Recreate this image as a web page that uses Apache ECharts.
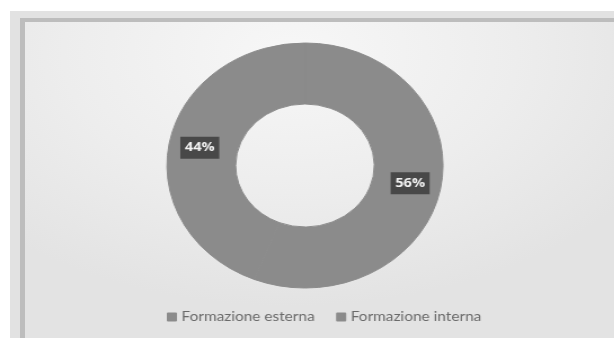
<!DOCTYPE html>
<html>
<head>
<meta charset="utf-8">
<script src="https://cdn.jsdelivr.net/npm/echarts@6/dist/echarts.min.js"></script>
<style>
  html, body { margin: 0; padding: 0; background: #ffffff; }
  #page { position: relative; width: 614px; height: 338px; overflow: hidden; background: #ffffff; }
  /* slide frame: outer light band, darker edge line, then the plot area */
  #frame { position: absolute; left: 10px; top: 11px; right: 0; bottom: 0; background: #e2e2e2; }
  #edge { position: absolute; left: 20px; top: 18px; right: 0; bottom: 0; background: #bdbdbd; }
  #area { position: absolute; left: 25px; top: 22px; right: 0; bottom: 0;
          background: radial-gradient(ellipse 70% 80% at 45% 10%, #f7f7f7 0%, #ededed 55%, #e3e3e3 100%); }
  /* chart is laid out narrower and stretched horizontally */
  #chart { position: absolute; left: 0; top: 0; width: 545px; height: 338px;
           transform: scaleX(1.127); transform-origin: 0 0; }
</style>
</head>
<body>
<div id="page">
  <div id="frame"></div>
  <div id="edge"></div>
  <div id="area"></div>
  <div id="chart"></div>
</div>
<script>
// Share of training by type (percent)
var categories = ['Formazione esterna', 'Formazione interna'];
var shares = [56, 44];

var chart = echarts.init(document.getElementById('chart'), null, { renderer: 'canvas' });

var ringColor = '#8b8b8b';

chart.setOption({
  backgroundColor: 'transparent',
  animation: false,
  legend: {
    data: categories,
    top: 305,
    left: 143,
    itemWidth: 7,
    itemHeight: 7,
    itemGap: 19,
    icon: 'rect',
    textStyle: { fontFamily: 'Lato', fontSize: 13.7, color: '#6a6a6a' },
    itemStyle: { color: ringColor }
  },
  series: [{
    type: 'pie',
    center: [270.6, 165.5],
    radius: [61.5, 122.5],
    startAngle: 90,
    clockwise: true,
    label: {
      show: true,
      position: 'inside',
      formatter: '{c}%',
      fontFamily: 'Open Sans',
      fontWeight: 'bold',
      fontSize: 13,
      color: '#f2f2f2',
      backgroundColor: '#484848',
      padding: [5, 4, 4, 4]
    },
    labelLine: { show: false },
    itemStyle: { color: ringColor, borderColor: ringColor, borderWidth: 1 },
    emphasis: { disabled: true },
    data: categories.map(function (name, i) {
      return { name: name, value: shares[i] };
    })
  }]
});
</script>
</body>
</html>
